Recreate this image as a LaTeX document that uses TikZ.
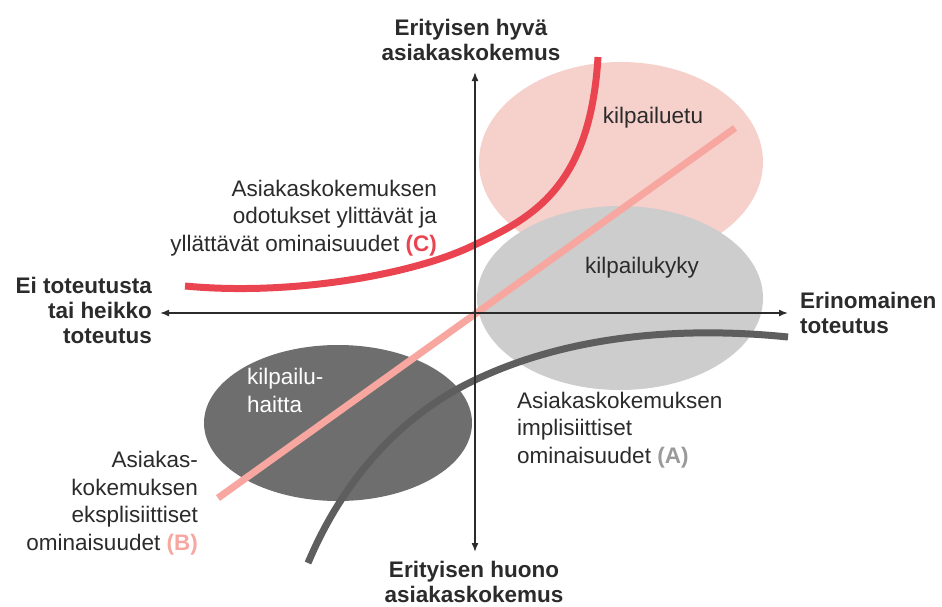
\documentclass[tikz,border=0pt]{standalone}
\usepackage{fontspec}
\setmainfont{Liberation Sans}
\usetikzlibrary{arrows.meta,shapes.geometric}

\definecolor{ink}{HTML}{2B2B2B}
\definecolor{advpink}{HTML}{F6D0CB}
\definecolor{compgray}{HTML}{CDCDCD}
\definecolor{disgray}{HTML}{6E6E6E}
\definecolor{curvered}{HTML}{EA4450}
\definecolor{linepink}{HTML}{F7A7A0}
\definecolor{curvegray}{HTML}{5E5E5E}
\definecolor{letterA}{HTML}{9A9A9A}

\tikzset{
  zone/.style={ellipse, draw=none, inner sep=0pt},
  axisline/.style={line width=1.6pt, draw=ink, -{Latex[length=9pt,width=7pt]}},
  trend/.style={line width=7pt},
  lbl/.style={inner sep=0pt, text=ink, font=\fontsize{22.5}{27.5}\selectfont},
  axislbl/.style={inner sep=0pt, text=ink, font=\bfseries\fontsize{22.5}{25}\selectfont},
}

\begin{document}
\begin{tikzpicture}[x=1pt,y=-1pt]
\useasboundingbox[fill=white] (0,0) rectangle (942,606);

% three regions
\node[zone, fill=advpink, minimum width=284pt, minimum height=200pt] (etu) at (621,162) {};
\node[zone, fill=compgray, minimum width=286pt, minimum height=184pt] (kyky) at (620,298) {};
\node[zone, fill=disgray, minimum width=268pt, minimum height=156pt] (haitta) at (338,423) {};

% explicit features (B): straight line through the origin
\coordinate (Bs) at (218,498);
\coordinate (Be) at (735,128);
\draw[trend, draw=linepink] (Bs) -- (Be);

% delighters (C)
\coordinate (Cs) at (185,286);
\coordinate (Cm) at (470,247);
\coordinate (Ce) at (598,57);
\draw[trend, draw=curvered] (Cs) .. controls (290,296) and (410,275) .. (Cm)
  .. controls (530,219) and (590,190) .. (Ce);

% implicit features (A)
\coordinate (As) at (308,563);
\coordinate (Am) at (475,380);
\coordinate (Ae) at (788,337);
\draw[trend, draw=curvegray] (As) .. controls (345,475) and (405,413) .. (Am)
  .. controls (580,330) and (700,328) .. (Ae);

% axes
\coordinate (O) at (475,313);
\coordinate (xl) at (160,313);
\coordinate (xr) at (788,313);
\coordinate (yt) at (475,72);
\coordinate (yb) at (475,552);
\draw[axisline] (O) -- (xr);
\draw[axisline] (O) -- (xl);
\draw[axisline] (O) -- (yt);
\draw[axisline] (O) -- (yb);

% axis labels (anchored on the baseline of their last line)
\node[axislbl, anchor=base, align=center] (top) at (471,60) {Erityisen hyvä\\asiakaskokemus};
\node[axislbl, anchor=base, align=center] (bottom) at (474,602) {Erityisen huono\\asiakaskokemus};
\node[axislbl, anchor=base east, align=right] (left) at (152,343) {Ei toteutusta\\tai heikko\\toteutus};
\node[axislbl, anchor=base west, align=left] (right) at (800,333) {Erinomainen\\toteutus};

% region labels
\node[lbl, anchor=base] (etuL) at (653,123) {kilpailuetu};
\node[lbl, anchor=base] (kykyL) at (642,273) {kilpailukyky};
\node[lbl, anchor=base west, align=left, text=white] (haittaL) at (247,412) {kilpailu-\\haitta};

% curve labels
\node[lbl, anchor=base east, align=right] (cL) at (437,251)
  {Asiakaskokemuksen\\odotukset ylittävät ja\\yllättävät ominaisuudet \textbf{\textcolor{curvered}{(C)}}};
\node[lbl, anchor=base west, align=left] (aL) at (517,463)
  {Asiakaskokemuksen\\implisiittiset\\ominaisuudet \textbf{\textcolor{letterA}{(A)}}};
\node[lbl, anchor=base east, align=right] (bL) at (198,550)
  {Asiakas-\\kokemuksen\\eksplisiittiset\\ominaisuudet \textbf{\textcolor{linepink}{(B)}}};
\end{tikzpicture}
\end{document}
